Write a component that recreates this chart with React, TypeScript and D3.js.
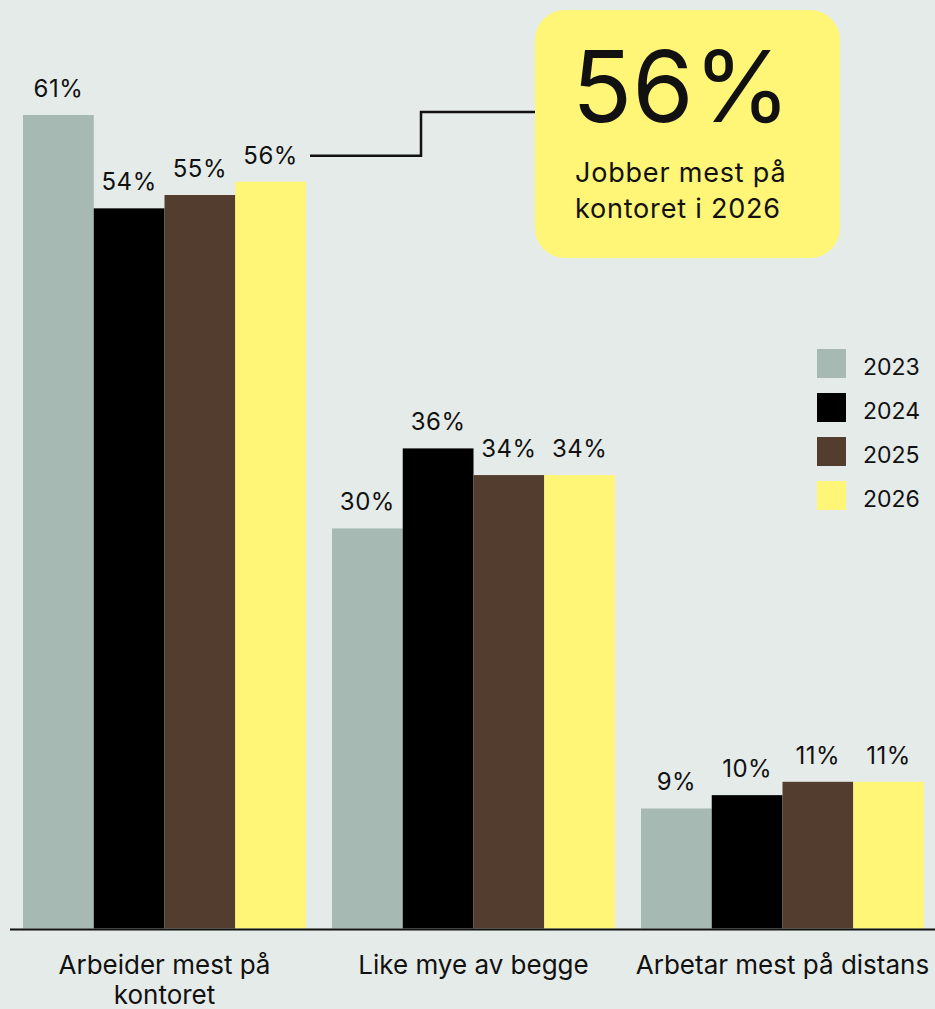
import React, { useEffect, useRef } from 'react';
import * as d3 from 'd3';

const categories = ['Arbeider mest på kontoret', 'Like mye av begge', 'Arbetar mest på distans'];
const years = ['2023', '2024', '2025', '2026'];
const values2023 = [61, 30, 9];
const values2024 = [54, 36, 10];
const values2025 = [55, 34, 11];
const values2026 = [56, 34, 11];
const seriesValues = [values2023, values2024, values2025, values2026];
const colors = ['#a6b9b2', '#000000', '#533d2f', '#fff577'];
const highlightValue = '56%';
const highlightLines = ['Jobber mest på', 'kontoret i 2026'];

const W = 935;
const H = 1009;
const FONT = 'Inter, "Noto Sans", sans-serif';

export default function App() {
  const ref = useRef<SVGSVGElement | null>(null);

  useEffect(() => {
    const svg = d3.select(ref.current);
    svg.selectAll('*').remove();

    svg.append('rect').attr('width', W).attr('height', H).attr('fill', '#e5ebe8');

    const x0 = d3.scaleBand<string>().domain(categories).range([23, 924]).paddingInner(0.0841).paddingOuter(0);
    const x1 = d3.scaleBand<string>().domain(years).range([0, x0.bandwidth()]).padding(0);
    const y = d3.scaleLinear().domain([0, 61]).range([928.5, 115]);

    const g = svg.append('g');
    categories.forEach((cat, i) => {
      years.forEach((yr, j) => {
        const v = seriesValues[j][i];
        const bx = (x0(cat) as number) + (x1(yr) as number);
        g.append('rect')
          .attr('x', bx)
          .attr('y', y(v))
          .attr('width', x1.bandwidth())
          .attr('height', y(0) - y(v))
          .attr('fill', colors[j]);
        g.append('text')
          .attr('x', bx + x1.bandwidth() / 2)
          .attr('y', y(v) - 18)
          .attr('text-anchor', 'middle')
          .attr('font-family', FONT)
          .attr('font-size', 24)
          .attr('letter-spacing', 0.5)
          .attr('fill', '#111')
          .text(`${v}%`);
      });
    });

    // axis line
    svg.append('line')
      .attr('x1', 10).attr('x2', W)
      .attr('y1', 929.5).attr('y2', 929.5)
      .attr('stroke', '#111').attr('stroke-width', 2);

    // category labels with wrapping
    const wrapW = x0.step();
    categories.forEach((cat) => {
      const cx = (x0(cat) as number) + x0.bandwidth() / 2;
      const t = svg.append('text')
        .attr('x', cx).attr('y', 974)
        .attr('text-anchor', 'middle')
        .attr('font-family', FONT)
        .attr('font-size', 26)
        .attr('fill', '#111');
      const words = cat.split(' ');
      let line: string[] = [];
      let tspan = t.append('tspan').attr('x', cx).attr('dy', 0);
      words.forEach((w) => {
        line.push(w);
        tspan.text(line.join(' '));
        const node = tspan.node() as SVGTextContentElement;
        if (node.getComputedTextLength() > wrapW && line.length > 1) {
          line.pop();
          tspan.text(line.join(' '));
          line = [w];
          tspan = t.append('tspan').attr('x', cx).attr('dy', 30).text(w);
        }
      });
    });

    // legend
    const lg = svg.append('g');
    years.forEach((yr, j) => {
      const ly = 349 + j * 44;
      lg.append('rect').attr('x', 817).attr('y', ly).attr('width', 29).attr('height', 29).attr('fill', colors[j]);
      lg.append('text')
        .attr('x', 863).attr('y', ly + 26)
        .attr('font-family', FONT).attr('font-size', 23).attr('fill', '#111')
        .text(yr);
    });

    // annotation
    const lastIdx = years.length - 1;
    const hx = (x0(categories[0]) as number) + (x1(years[lastIdx]) as number) + x1.bandwidth();
    const hy = y(seriesValues[lastIdx][0]) - 18 - 8;
    svg.append('path')
      .attr('d', `M${hx + 4},${hy} H421 V112 H536`)
      .attr('fill', 'none').attr('stroke', '#111').attr('stroke-width', 2.5);

    svg.append('rect')
      .attr('x', 535).attr('y', 10).attr('width', 305).attr('height', 248)
      .attr('rx', 30).attr('fill', '#fff577');
    svg.append('text')
      .attr('x', 572).attr('y', 122)
      .attr('font-family', FONT).attr('font-size', 99).attr('fill', '#111')
      .text(highlightValue);
    highlightLines.forEach((l, k) => {
      svg.append('text')
        .attr('x', 575).attr('y', 182 + k * 36)
        .attr('font-family', FONT).attr('font-size', 27).attr('font-weight', 400)
        .attr('letter-spacing', 0.8).attr('fill', '#111')
        .text(l);
    });
  }, []);

  return (
    <div style={{ position: 'absolute', left: 0, top: 0 }}>
      <svg ref={ref} width={W} height={H} style={{ display: 'block' }} />
    </div>
  );
}
